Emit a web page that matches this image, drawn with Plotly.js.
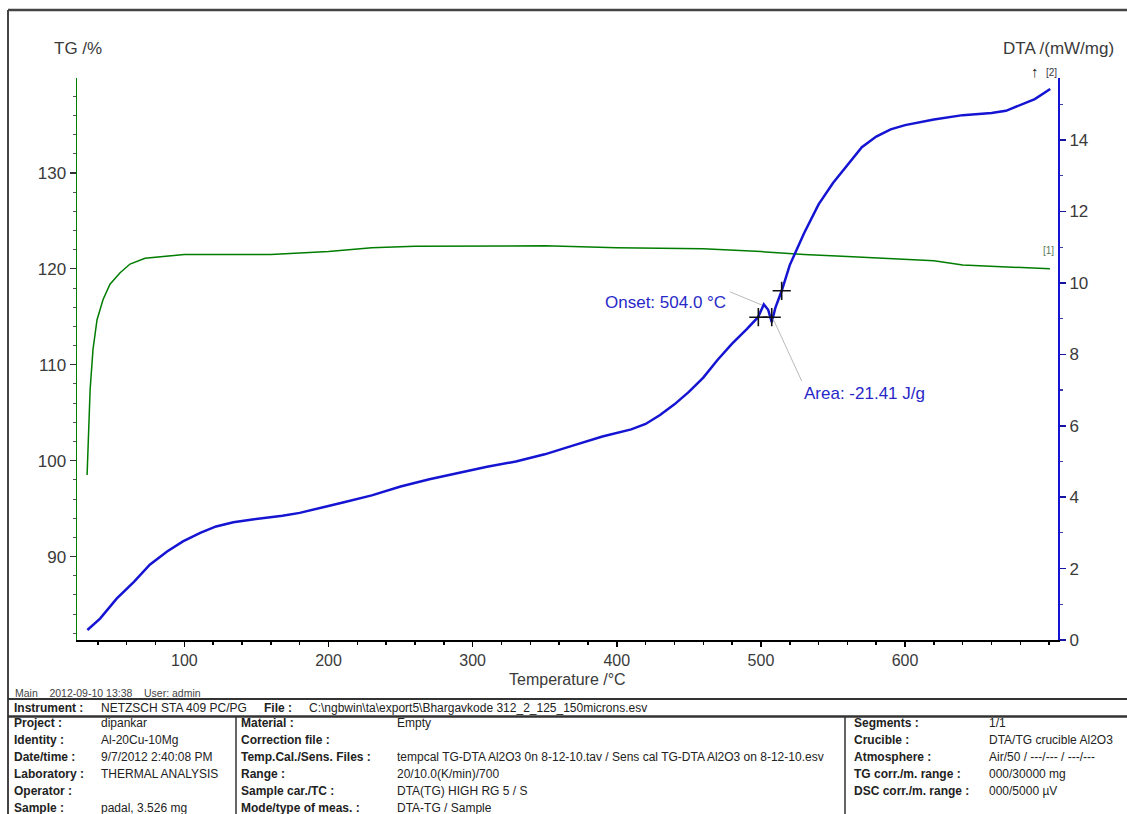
<!DOCTYPE html>
<html>
<head>
<meta charset="utf-8">
<script src="https://cdn.plot.ly/plotly-3.0.1.min.js"></script>
<style>
html,body{margin:0;padding:0;background:#fff;}
#chart{width:1127px;height:814px;}
</style>
</head>
<body>
<div id="chart"></div>
<script>
// ---------------- data ----------------
const tgTemp  = [32.5, 33.2, 34.6, 36.6, 39.4, 43.6, 48.4, 55.4, 62.3, 72.7, 85, 100, 130, 160, 200, 230, 260, 300, 350, 400, 460, 500, 530, 560, 600, 620, 640, 660, 680, 700.5];
const tgValue = [98.5, 102.2, 107.4, 111.6, 114.7, 116.8, 118.4, 119.6, 120.5, 121.1, 121.3, 121.5, 121.5, 121.5, 121.8, 122.2, 122.35, 122.4, 122.4, 122.2, 122.1, 121.8, 121.5, 121.3, 121.0, 120.85, 120.4, 120.25, 120.15, 120.0];

const dtaTemp  = [32.7, 41.5, 53, 65, 76, 88, 99, 111, 122, 134, 146, 157, 168, 180, 195, 210, 230, 250, 270, 290, 310, 330, 350, 370, 390, 410, 420, 430, 440, 450, 460, 470, 480, 490, 498, 502, 505, 507.5, 510, 514.4, 520, 530, 540, 550, 560, 570, 580, 590, 600, 620, 640, 660, 670, 680, 690, 700.7];
const dtaValue = [0.28, 0.6, 1.16, 1.63, 2.11, 2.48, 2.76, 3.0, 3.18, 3.3, 3.37, 3.42, 3.48, 3.56, 3.7, 3.85, 4.05, 4.3, 4.5, 4.68, 4.85, 5.0, 5.2, 5.45, 5.7, 5.9, 6.05, 6.3, 6.6, 6.95, 7.35, 7.85, 8.3, 8.7, 9.04, 9.4, 9.25, 8.9, 9.3, 9.78, 10.5, 11.4, 12.2, 12.8, 13.3, 13.8, 14.1, 14.3, 14.42, 14.58, 14.7, 14.76, 14.82, 14.98, 15.15, 15.43];

const markTemp = [498.2, 507.5, 514.4];
const markDTA  = [9.04, 9.04, 9.78];

const onsetText = 'Onset: 504.0 °C';
const onsetLeaderT = [478.6, 500.8];
const onsetLeaderD = [9.75, 9.38];
const areaText = 'Area: -21.41 J/g';
const areaLeaderT = [528.3, 508.4];
const areaLeaderD = [7.25, 9.0];

const xTickVals = [100, 200, 300, 400, 500, 600];
const xMinorTicks = [40, 60, 80, 120, 140, 160, 180, 220, 240, 260, 280, 320, 340, 360, 380, 420, 440, 460, 480, 520, 540, 560, 580, 620, 640, 660, 680, 700];

const xTitle = 'Temperature /°C';
const tgTitle = 'TG /%';
const dtaTitle = 'DTA /(mW/mg)';
const headerLine = 'Main    2012-09-10 13:38    User: admin';

const instrumentLabel = 'Instrument :';
const instrumentValue = 'NETZSCH STA 409 PC/PG';
const fileLabel = 'File :';
const fileValue = 'C:\\ngbwin\\ta\\export5\\Bhargavkode 312_2_125_150microns.esv';

const col1Labels = ['Project :', 'Identity :', 'Date/time :', 'Laboratory :', 'Operator :', 'Sample :'];
const col1Values = ['dipankar', 'Al-20Cu-10Mg', '9/7/2012 2:40:08 PM', 'THERMAL ANALYSIS', '', 'padal, 3.526 mg'];
const col2Labels = ['Material :', 'Correction file :', 'Temp.Cal./Sens. Files :', 'Range :', 'Sample car./TC :', 'Mode/type of meas. :'];
const col2Values = ['Empty', '', 'tempcal TG-DTA Al2O3 0n 8-12-10.tav / Sens cal TG-DTA Al2O3 on 8-12-10.esv', '20/10.0(K/min)/700', 'DTA(TG) HIGH RG 5 / S', 'DTA-TG / Sample'];
const col3Labels = ['Segments :', 'Crucible :', 'Atmosphere :', 'TG corr./m. range :', 'DSC corr./m. range :'];
const col3Values = ['1/1', 'DTA/TG crucible Al2O3', 'Air/50 / ---/--- / ---/---', '000/30000 mg', '000/5000 µV'];

// ---------------- layout geometry (pixels) ----------------
const W = 1127, H = 814;
const PL = 77, PR = 1058, PT = 78, PB = 640;
const px = x => (x - PL) / (PR - PL);
const py = y => (PB - y) / (PB - PT);

const FONT = 'Liberation Sans, Arial, sans-serif';
const GREEN = 'rgb(0,125,0)';
const BLUE = 'rgb(20,20,210)';
const TXT = '#3a3a3a';

const traces = [
  {x: tgTemp, y: tgValue, type: 'scatter', mode: 'lines', yaxis: 'y',
   line: {color: GREEN, width: 1.5}, hoverinfo: 'skip'},
  {x: dtaTemp, y: dtaValue, type: 'scatter', mode: 'lines', yaxis: 'y2',
   line: {color: BLUE, width: 2.5}, hoverinfo: 'skip'},
  {x: onsetLeaderT, y: onsetLeaderD, type: 'scatter', mode: 'lines', yaxis: 'y2',
   line: {color: '#bbb', width: 1}, hoverinfo: 'skip'},
  {x: areaLeaderT, y: areaLeaderD, type: 'scatter', mode: 'lines', yaxis: 'y2',
   line: {color: '#bbb', width: 1}, hoverinfo: 'skip'},
  {x: [markTemp[0], markTemp[1]], y: [markDTA[0], markDTA[1]], type: 'scatter', mode: 'lines', yaxis: 'y2',
   line: {color: '#111', width: 1}, hoverinfo: 'skip'},
  {x: markTemp, y: markDTA, type: 'scatter', mode: 'markers', yaxis: 'y2',
   marker: {symbol: 'cross-thin', size: 13, line: {color: '#111', width: 1.6}}, hoverinfo: 'skip'}
];

const annotations = [];
function txt(x, y, text, opt) {
  annotations.push(Object.assign({
    xref: 'paper', yref: 'paper', x: px(x), y: py(y), text: text, showarrow: false,
    xanchor: 'left', yanchor: 'middle', borderpad: 0,
    font: {family: FONT, size: 12, color: '#222'}
  }, opt || {}));
}

// axis titles
txt(78, 48, tgTitle, {xanchor: 'center', font: {family: FONT, size: 17, color: TXT}});
txt(1058, 48, dtaTitle, {xanchor: 'center', font: {family: FONT, size: 17, color: TXT}});
txt(567.5, 679, xTitle, {xanchor: 'center', font: {family: FONT, size: 16, color: TXT}});
txt(1035, 72, '↑', {xanchor: 'center', font: {family: FONT, size: 15, color: '#222'}});
txt(1051, 73, '[2]', {xanchor: 'center', font: {family: FONT, size: 10, color: '#334'}});
txt(1048, 250, '[1]', {xanchor: 'center', font: {family: FONT, size: 10, color: '#5a7a5a'}});

// chart annotations (data coordinates)
annotations.push({xref: 'x', yref: 'y2', x: 477.2, y: 9.44, text: onsetText, showarrow: false,
  xanchor: 'right', yanchor: 'middle', font: {family: FONT, size: 17, color: 'rgb(40,40,200)'}});
annotations.push({xref: 'x', yref: 'y2', x: 528.3, y: 6.89, text: areaText, showarrow: false,
  xanchor: 'left', yanchor: 'middle', font: {family: FONT, size: 17, color: 'rgb(40,40,200)'}});

// footer / table
txt(14, 693, headerLine, {font: {family: FONT, size: 10.5, color: '#444'}});
txt(13, 708, '<b>' + instrumentLabel + '</b>');
txt(100, 708, instrumentValue);
txt(263, 708, '<b>' + fileLabel + '</b>');
txt(308, 708, fileValue);
const rowY = [723, 740, 757, 774, 791, 808];
col1Labels.forEach((l, i) => { txt(13, rowY[i], '<b>' + l + '</b>'); if (col1Values[i]) txt(100, rowY[i], col1Values[i]); });
col2Labels.forEach((l, i) => { txt(240, rowY[i], '<b>' + l + '</b>'); if (col2Values[i]) txt(396, rowY[i], col2Values[i]); });
col3Labels.forEach((l, i) => { txt(853, rowY[i], '<b>' + l + '</b>'); if (col3Values[i]) txt(988, rowY[i], col3Values[i]); });

function hline(y, x0, x1, w, c) {
  return {type: 'line', xref: 'paper', yref: 'paper', x0: px(x0), x1: px(x1), y0: py(y), y1: py(y),
          line: {color: c || '#333', width: w}};
}
function vline(x, y0, y1, w, c) {
  return {type: 'line', xref: 'paper', yref: 'paper', x0: px(x), x1: px(x), y0: py(y0), y1: py(y1),
          line: {color: c || '#333', width: w}};
}
const shapes = [
  hline(10, 8, 1127, 2.5, '#444'),
  vline(8, 10, 814, 2, '#444'),
  hline(699, 8, 1127, 2, '#333'),
  hline(716.5, 8, 1127, 2.5, '#333'),
  vline(236, 717, 814, 1.5, '#333'),
  vline(845, 717, 814, 1.5, '#333')
];

const layout = {
  width: W, height: H,
  margin: {l: PL, r: W - PR, t: PT, b: H - PB, pad: 0},
  paper_bgcolor: '#fff', plot_bgcolor: '#fff',
  showlegend: false,
  font: {family: FONT, color: TXT},
  xaxis: {
    range: [25.5, 706.1], tickmode: 'array', tickvals: xTickVals,
    ticks: 'outside', ticklen: 5, tickwidth: 1.5, tickcolor: '#000',
    minor: {tickmode: 'array', tickvals: xMinorTicks, ticks: 'outside', ticklen: 3, tickwidth: 1.5, tickcolor: '#000', showgrid: false},
    showline: true, linecolor: '#000', linewidth: 1.5, mirror: false,
    showgrid: false, zeroline: false,
    tickfont: {family: FONT, size: 16, color: TXT}
  },
  yaxis: {
    range: [81.3, 139.9], tick0: 0, dtick: 10,
    ticks: 'outside', ticklen: 6, tickwidth: 1.2, tickcolor: '#333',
    minor: {dtick: 2, ticks: 'outside', ticklen: 3, tickwidth: 1, tickcolor: '#555', showgrid: false},
    showline: true, linecolor: GREEN, linewidth: 1.5,
    showgrid: false, zeroline: false,
    tickfont: {family: FONT, size: 17, color: TXT}
  },
  yaxis2: {
    overlaying: 'y', side: 'right',
    range: [0, 15.74], tick0: 0, dtick: 2,
    ticks: 'outside', ticklen: 6, tickwidth: 1.5, tickcolor: 'rgb(20,20,160)',
    minor: {dtick: 1, ticks: 'outside', ticklen: 3, tickwidth: 1.2, tickcolor: 'rgb(60,60,170)', showgrid: false},
    showline: true, linecolor: BLUE, linewidth: 2,
    showgrid: false, zeroline: false,
    tickfont: {family: FONT, size: 17, color: TXT}
  },
  annotations: annotations,
  shapes: shapes
};

Plotly.newPlot('chart', traces, layout, {staticPlot: true, displayModeBar: false});
</script>
</body>
</html>
